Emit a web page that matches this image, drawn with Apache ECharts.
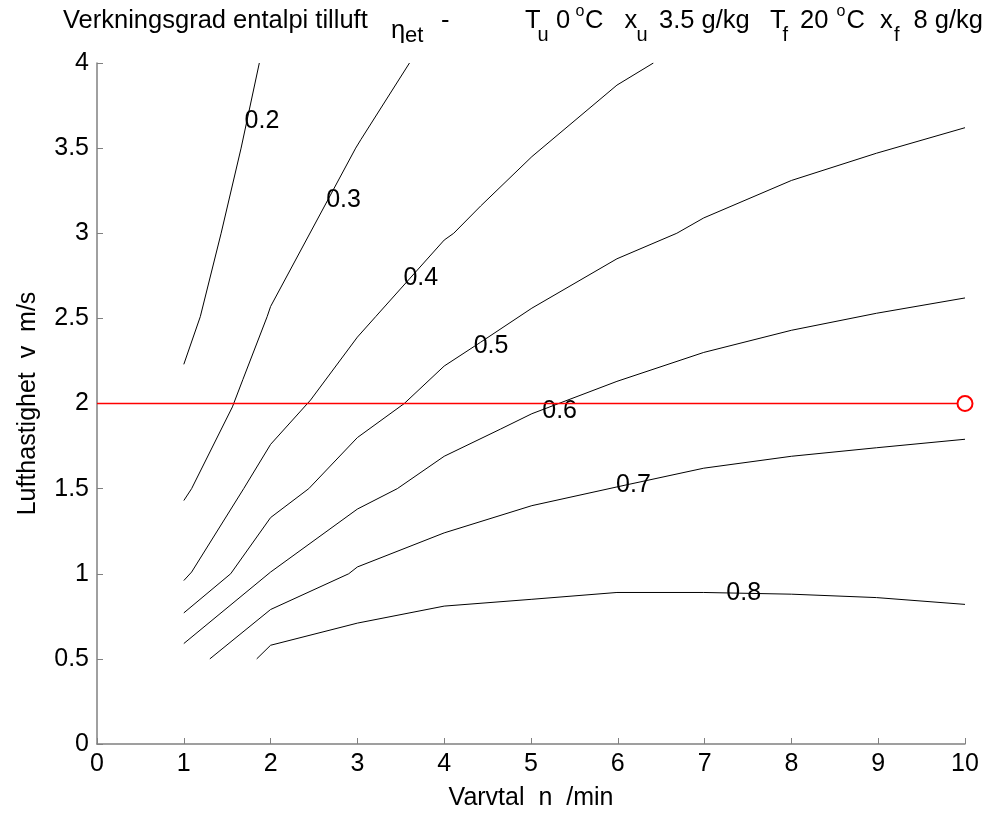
<!DOCTYPE html>
<html>
<head>
<meta charset="utf-8">
<script src="https://cdn.jsdelivr.net/npm/echarts@6/dist/echarts.min.js"></script>
<style>
html,body{margin:0;padding:0;background:#fff;}
#chart{width:986px;height:816px;}
</style>
</head>
<body>
<div id="chart"></div>
<script>
// ---- data ----
const levels = ['0.2', '0.3', '0.4', '0.5', '0.6', '0.7', '0.8'];

const c02 = [[1.0,2.23],[1.19,2.51],[1.43,3.0],[1.66,3.5],[1.87,4.0]];
const c03 = [[1.0,1.43],[1.09,1.5],[1.56,1.98],[1.68,2.14],[1.96,2.51],[2.0,2.57],[2.98,3.5],[3.04,3.55],[3.6,4.0]];
const c04 = [[1.0,0.96],[1.09,1.01],[1.69,1.5],[2.0,1.76],[2.46,2.02],[3.0,2.39],[3.21,2.51],[4.0,2.96],[4.11,3.0],[4.42,3.16],[5.01,3.45],[5.99,3.87],[6.41,4.0]];
const c05 = [[1.0,0.77],[1.54,1.0],[2.0,1.33],[2.44,1.5],[3.0,1.8],[3.54,2.0],[4.0,2.22],[4.42,2.36],[5.01,2.56],[5.99,2.85],[6.68,3.0],[6.99,3.09],[8.0,3.31],[8.98,3.47],[10.0,3.62]];
const c06 = [[1.0,0.59],[2.0,1.01],[3.0,1.38],[3.46,1.5],[4.0,1.69],[4.65,1.85],[5.01,1.94],[5.99,2.13],[6.99,2.3],[8.0,2.43],[8.98,2.53],[10.0,2.62]];
const c07 = [[1.3,0.5],[2.0,0.79],[2.9,1.0],[3.0,1.04],[4.0,1.24],[5.01,1.4],[5.99,1.51],[6.99,1.62],[8.0,1.69],[8.98,1.74],[10.0,1.79]];
const c08 = [[1.84,0.5],[2.0,0.58],[3.0,0.71],[4.0,0.81],[5.01,0.85],[5.99,0.89],[6.99,0.89],[8.0,0.88],[8.98,0.86],[10.0,0.82]];

const labelPos = [[1.90,3.66],[2.84,3.195],[3.73,2.734],[4.54,2.34],[5.33,1.954],[6.18,1.52],[7.45,0.884]];

const redLineX = [0, 10];
const redLineY = [2, 2];
const redPoint = [[10,2]];

const xRange = [0, 10, 1];
const yRange = [0, 4, 0.5];

const xName = 'Varvtal  n  /min';
const yName = 'Lufthastighet  v  m/s';

// title pieces: [text, role]
const titleParts = [
  ['Verkningsgrad entalpi tilluft', 'main'],
  ['\u03b7', 'eta'], ['et', 'etSub'], ['-', 'main'],
  ['T', 'main'], ['u', 'sub'], ['0', 'main'], ['o', 'sup'], ['C', 'main'],
  ['x', 'main'], ['u', 'sub'], ['3.5 g/kg', 'main'],
  ['T', 'main'], ['f', 'sub'], ['20', 'main'], ['o', 'sup'], ['C', 'main'],
  ['x', 'main'], ['f', 'sub'], ['8 g/kg', 'main']
];

// ---- layout / style (not data) ----
const F = '"Liberation Sans", Arial, Helvetica, sans-serif';
const FS = 25;
const titleX = [63, 391, 405, 441, 525, 537.5, 556, 575.5, 585, 624.5, 636.5, 659, 770, 782.5, 800, 836.5, 846.5, 880, 894, 983];
const roleStyle = {
  main:  {size: 25.5, y: 21},
  eta:   {size: 25.5, y: 31},
  etSub: {size: 22,   y: 36},
  sub:   {size: 20,   y: 35},
  sup:   {size: 16,   y: 12}
};

const curves = [c02, c03, c04, c05, c06, c07, c08];

const series = curves.map((c, i) => ({
  type: 'line',
  name: levels[i],
  data: c,
  symbol: 'none',
  smooth: false,
  color: '#000',
  lineStyle: {color: '#000', width: 1},
  silent: true,
  z: 2
}));

series.push({
  type: 'line',
  name: 'refLine',
  data: redLineX.map((x, i) => [x, redLineY[i]]),
  symbol: 'none',
  color: '#ff0000',
  itemStyle: {color: '#ff0000', opacity: 1},
  lineStyle: {color: '#ff0000', width: 1.4, opacity: 1, type: 'solid'},
  silent: true,
  z: 6
});
series.push({
  type: 'scatter',
  name: 'refpt',
  data: redPoint,
  symbol: 'emptyCircle',
  symbolSize: 15,
  color: '#ff0000',
  itemStyle: {color: '#ff0000', borderColor: '#ff0000', borderWidth: 1, opacity: 1},
  silent: true,
  z: 7
});
series.push({
  type: 'scatter',
  name: 'labels',
  data: labelPos.map((p, i) => ({value: p, name: levels[i]})),
  symbol: 'circle',
  symbolSize: 0,
  color: '#000',
  itemStyle: {color: '#000', opacity: 1},
  label: {
    show: true,
    position: 'inside',
    formatter: p => p.name,
    color: '#000',
    opacity: 1,
    textBorderWidth: 0,
    fontSize: FS,
    fontFamily: F
  },
  silent: true,
  z: 5
});

const graphics = titleParts.map((p, i) => {
  const st = roleStyle[p[1]];
  const last = i === titleParts.length - 1;
  return {
    type: 'text', x: titleX[i], y: st.y, silent: true,
    style: {
      text: p[0], fill: '#000',
      font: st.size + 'px ' + F,
      align: last ? 'right' : 'left', textAlign: last ? 'right' : 'left',
      verticalAlign: 'middle', textVerticalAlign: 'middle'
    }
  };
});

const axisGray = '#808080';
const option = {
  animation: false,
  backgroundColor: '#fff',
  color: ['#000'],
  grid: {left: 97, right: 21, top: 63, bottom: 71, containLabel: false},
  xAxis: {
    type: 'value', min: xRange[0], max: xRange[1], interval: xRange[2],
    name: xName, nameLocation: 'middle', nameGap: 42,
    nameTextStyle: {color: '#000', fontSize: FS, fontFamily: F},
    axisLine: {show: true, onZero: false, lineStyle: {color: axisGray, width: 1.5}},
    axisTick: {show: true, inside: true, length: 6, lineStyle: {color: axisGray, width: 1}},
    axisLabel: {color: '#000', fontSize: FS, fontFamily: F, margin: 8},
    splitLine: {show: false},
    axisPointer: {show: false}
  },
  yAxis: {
    type: 'value', min: yRange[0], max: yRange[1], interval: yRange[2],
    name: yName, nameLocation: 'middle', nameGap: 56, nameRotate: 90,
    nameTextStyle: {color: '#000', fontSize: FS, fontFamily: F},
    axisLine: {show: true, onZero: false, lineStyle: {color: axisGray, width: 1.5}},
    axisTick: {show: true, inside: true, length: 6, lineStyle: {color: axisGray, width: 1}},
    axisLabel: {color: '#000', fontSize: FS, fontFamily: F, margin: 8},
    splitLine: {show: false},
    axisPointer: {show: false}
  },
  graphic: graphics,
  series: series
};

const chart = echarts.init(document.getElementById('chart'), null, {renderer: 'canvas'});
chart.setOption(option);
</script>
</body>
</html>
